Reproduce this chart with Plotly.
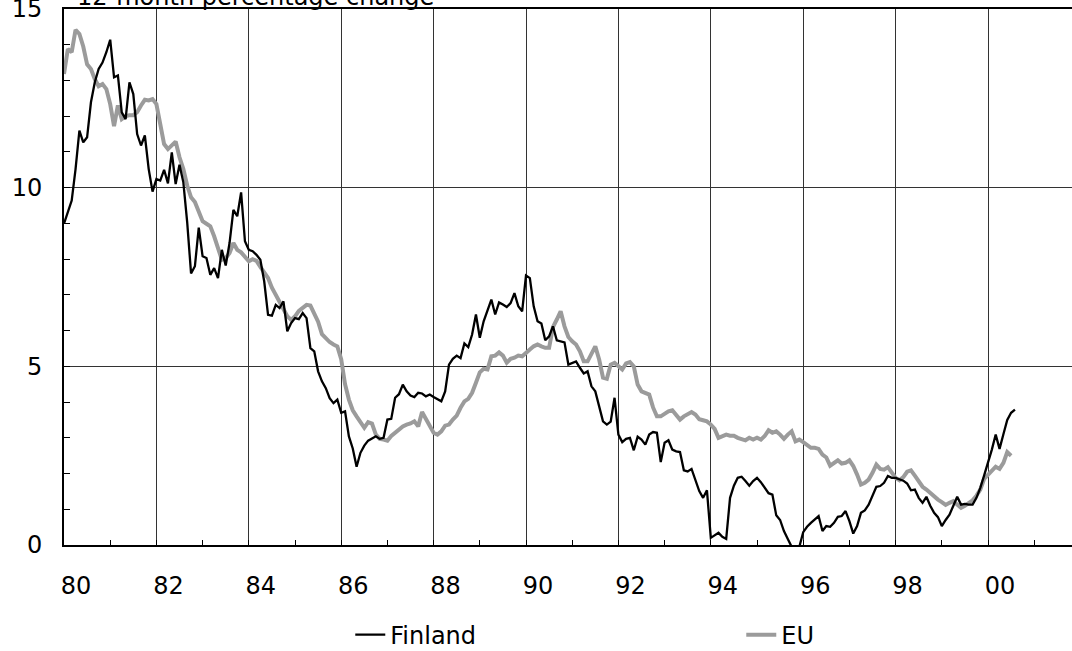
import plotly.graph_objects as go

# Monthly 12-month percentage change, Jan 1980 onwards
start_year = 1980
finland = [
    8.99, 9.3, 9.64, 10.52, 11.6, 11.27, 11.41, 12.39, 12.95, 13.32, 13.5, 13.79,
    14.14, 13.09, 13.14, 12.11, 11.92, 12.95, 12.62, 11.5, 11.18, 11.46, 10.52, 9.89,
    10.24, 10.2, 10.5, 10.12, 10.99, 10.1, 10.64, 10.15, 9.03, 7.6, 7.8, 8.88,
    8.08, 8.03, 7.56, 7.75, 7.47, 8.26, 7.82, 8.45, 9.38, 9.2, 9.87, 8.5,
    8.26, 8.22, 8.12, 7.98, 7.38, 6.44, 6.42, 6.72, 6.63, 6.82, 5.98, 6.21,
    6.35, 6.32, 6.49, 6.35, 5.51, 5.42, 4.86, 4.58, 4.39, 4.11, 3.97, 4.07,
    3.7, 3.74, 3.04, 2.7, 2.19, 2.58, 2.78, 2.92, 2.98, 3.04, 2.97, 3.0,
    3.51, 3.53, 4.12, 4.22, 4.49, 4.3, 4.18, 4.14, 4.26, 4.24, 4.16, 4.21,
    4.14, 4.07, 4.02, 4.3, 5.05, 5.21, 5.3, 5.23, 5.64, 5.54, 5.89, 6.45,
    5.8, 6.26, 6.55, 6.87, 6.45, 6.79, 6.73, 6.66, 6.77, 7.05, 6.68, 6.54,
    7.54, 7.47, 6.68, 6.26, 6.2, 5.73, 5.84, 6.12, 5.73, 5.7, 5.67, 5.05,
    5.1, 5.14, 4.96, 4.8, 4.86, 4.44, 4.3, 3.88, 3.46, 3.37, 3.45, 4.12,
    3.09, 2.88, 2.97, 3.0, 2.65, 3.03, 2.95, 2.81, 3.09, 3.16, 3.14, 2.32,
    2.86, 2.93, 2.67, 2.62, 2.6, 2.09, 2.06, 2.13, 1.83, 1.51, 1.32, 1.53,
    0.2, 0.27, 0.34, 0.23, 0.17, 1.32, 1.66, 1.88, 1.91, 1.79, 1.66, 1.79,
    1.88, 1.76, 1.6, 1.45, 1.41, 0.83, 0.7, 0.39, 0.17, -0.05, -0.15, -0.05,
    0.36, 0.51, 0.62, 0.71, 0.81, 0.39, 0.53, 0.51, 0.62, 0.79, 0.81, 0.95,
    0.67, 0.32, 0.53, 0.9, 0.97, 1.13, 1.38, 1.63, 1.65, 1.74, 1.93, 1.88,
    1.88, 1.85, 1.8, 1.72, 1.53, 1.55, 1.32, 1.18, 1.35, 1.1, 0.9, 0.78,
    0.53, 0.7, 0.85, 1.1, 1.35, 1.13, 1.15, 1.13, 1.13, 1.32, 1.6, 1.95,
    2.3, 2.67, 3.09, 2.69, 3.1, 3.5, 3.7, 3.79,
]
eu = [
    13.18, 13.88, 13.79, 14.42, 14.3, 13.95, 13.45, 13.32, 13.04, 12.84, 12.9, 12.76,
    12.34, 11.72, 12.3, 11.92, 12.0, 12.03, 12.03, 12.11, 12.3, 12.46, 12.44, 12.48,
    12.34, 11.83, 11.22, 11.08, 11.18, 11.29, 10.85, 10.52, 10.06, 9.73, 9.6, 9.34,
    9.06, 8.99, 8.92, 8.64, 8.26, 7.98, 8.03, 8.17, 8.45, 8.26, 8.19, 8.08,
    7.94, 8.0, 7.95, 7.78, 7.6, 7.47, 7.2, 7.0, 6.8, 6.65, 6.4, 6.3,
    6.4, 6.55, 6.63, 6.72, 6.7, 6.5, 6.25, 5.9, 5.78, 5.68, 5.61, 5.56,
    5.2, 4.5, 4.07, 3.77, 3.6, 3.46, 3.28, 3.44, 3.4, 3.09, 2.97, 2.95,
    2.92, 3.05, 3.14, 3.21, 3.32, 3.37, 3.4, 3.46, 3.32, 3.72, 3.51, 3.32,
    3.14, 3.09, 3.18, 3.34, 3.37, 3.51, 3.62, 3.84, 4.02, 4.09, 4.26, 4.54,
    4.83, 4.93, 4.91, 5.28, 5.3, 5.39, 5.3, 5.1, 5.21, 5.24, 5.3, 5.28,
    5.36, 5.47, 5.56, 5.61, 5.56, 5.52, 5.52, 6.1, 6.31, 6.54, 6.12, 5.82,
    5.7, 5.61, 5.42, 5.14, 5.14, 5.33, 5.56, 5.19, 4.68, 4.65, 5.05, 5.1,
    5.0, 4.91, 5.08, 5.12, 5.0, 4.49, 4.3, 4.24, 4.21, 3.85, 3.6, 3.6,
    3.68, 3.74, 3.77, 3.62, 3.51, 3.6, 3.66, 3.72, 3.65, 3.52, 3.49, 3.46,
    3.37, 3.25, 3.0, 3.06, 3.09, 3.06, 3.06, 3.0, 2.95, 2.93, 3.0, 2.95,
    3.0, 2.95, 3.05, 3.21, 3.14, 3.18, 3.09, 2.97, 3.09, 3.18, 2.9, 2.95,
    2.88, 2.8, 2.72, 2.72, 2.69, 2.53, 2.45, 2.22, 2.28, 2.37, 2.28, 2.3,
    2.37, 2.21, 1.97, 1.69, 1.74, 1.83, 2.02, 2.25, 2.13, 2.11, 2.18, 2.05,
    1.88, 1.81, 1.9, 2.05, 2.09, 1.94, 1.79, 1.63, 1.55, 1.45, 1.35, 1.27,
    1.2, 1.12, 1.18, 1.23, 1.13, 1.04, 1.1, 1.18, 1.25, 1.38, 1.55, 1.85,
    1.97, 2.09, 2.19, 2.13, 2.3, 2.6, 2.5,
]
x_tick_years = [1980, 1982, 1984, 1986, 1988, 1990, 1992, 1994, 1996, 1998, 2000]
x_tick_text = ["80", "82", "84", "86", "88", "90", "92", "94", "96", "98", "00"]
y_tick_vals = [0, 5, 10, 15]
y_tick_text = ["0", "5", "10", "15"]
title_text = "12-month percentage change"

x_fin = [start_year + i / 12 for i in range(len(finland))]
x_eu = [start_year + i / 12 for i in range(len(eu))]

FONT = "DejaVu Sans"

fig = go.Figure()
fig.add_trace(go.Scatter(
    x=x_eu, y=eu, mode="lines", name="EU", legendrank=2,
    line=dict(color="#9b9b9b", width=4),
))
fig.add_trace(go.Scatter(
    x=x_fin, y=finland, mode="lines", name="Finland", legendrank=1,
    line=dict(color="#000000", width=2.3),
))

fig.update_layout(
    width=1072, height=651,
    margin=dict(l=64, r=0, t=9, b=106, autoexpand=False),
    paper_bgcolor="white", plot_bgcolor="white",
    font=dict(family=FONT, size=24, color="black"),
    showlegend=True,
    legend=dict(
        orientation="h", x=0.284, xanchor="left", y=-0.168, yanchor="middle",
        font=dict(family=FONT, size=24, color="black"),
        bgcolor="rgba(0,0,0,0)", entrywidth=346, entrywidthmode="pixels",
    ),
    annotations=[dict(
        text=title_text, xref="paper", yref="paper", x=0.011, y=1.0233,
        xanchor="left", yanchor="middle", showarrow=False,
        font=dict(family=FONT, size=24, color="black"),
    )],
)

fig.update_xaxes(
    range=[1980, 1980 + 1008 / 46.2],
    tickvals=x_tick_years, ticktext=x_tick_text,
    ticks="inside", ticklen=5, tickcolor="black", tickwidth=1,
    ticklabelshift=12, ticklabelstandoff=18, ticklabeloverflow="allow",
    showgrid=True, gridcolor="#333333", gridwidth=1,
    minor=dict(dtick=1, tick0=1980, ticks="inside", ticklen=5,
               tickcolor="black", showgrid=False),
    showline=True, linecolor="black", linewidth=2, mirror=True,
    zeroline=False,
)
fig.update_yaxes(
    range=[0, 15],
    tickvals=y_tick_vals, ticktext=y_tick_text,
    ticks="inside", ticklen=6, tickcolor="black", tickwidth=1,
    ticklabelstandoff=15, ticklabeloverflow="allow",
    showgrid=True, gridcolor="#333333", gridwidth=1,
    minor=dict(dtick=1, tick0=0, ticks="inside", ticklen=6,
               tickcolor="black", showgrid=False),
    showline=True, linecolor="black", linewidth=2,
    zeroline=False,
)

fig.write_html(
    "out.html",
    config={"displayModeBar": False},
    post_script="document.body.style.margin='0';document.body.style.overflow='hidden';",
)
